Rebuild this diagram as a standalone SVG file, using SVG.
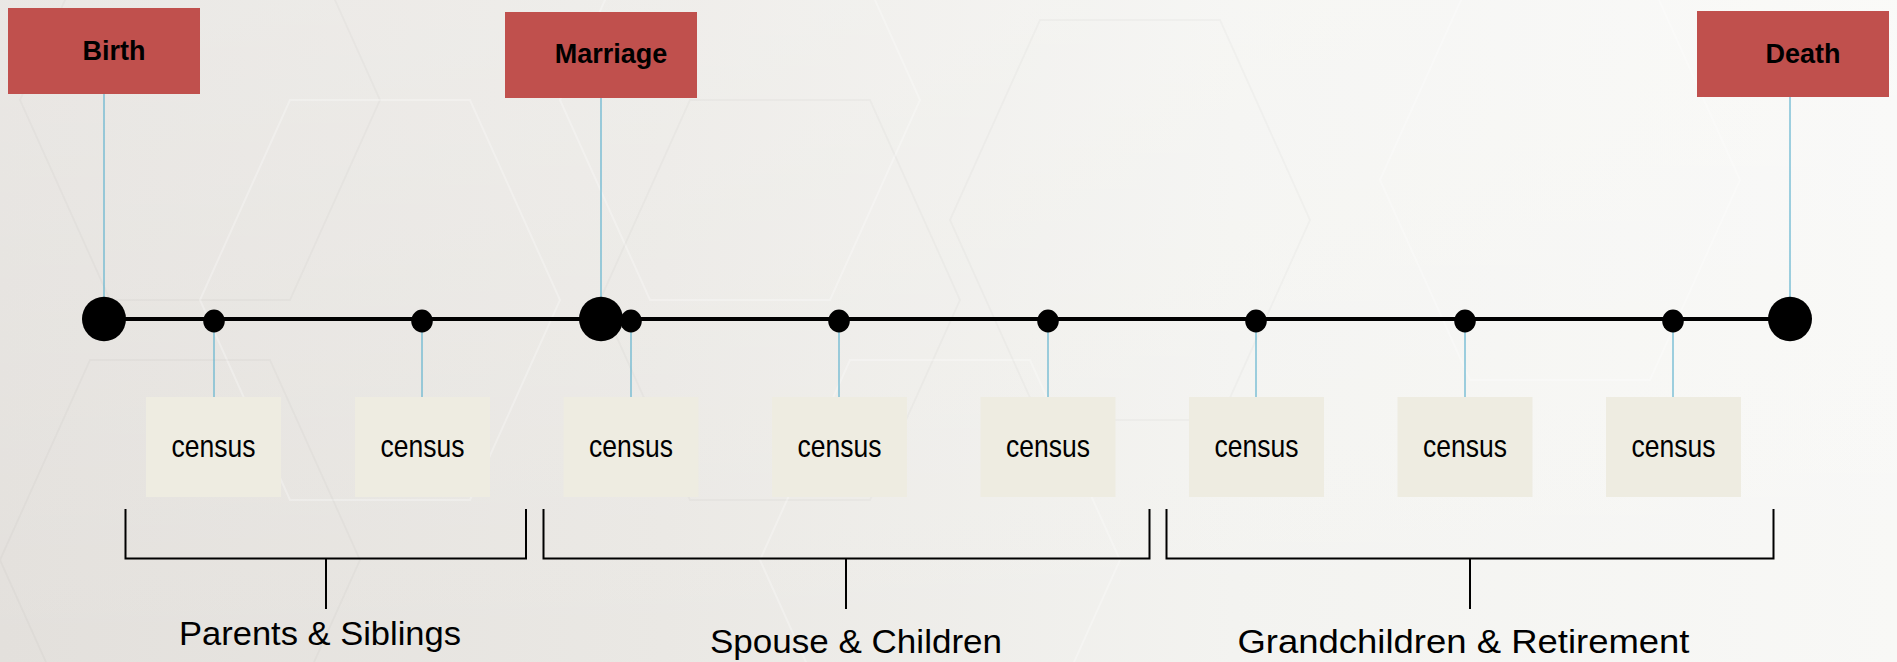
<svg xmlns="http://www.w3.org/2000/svg" width="1897" height="662" viewBox="0 0 1897 662">
  <defs>
    <linearGradient id="bg" x1="0" y1="0" x2="1" y2="0">
      <stop offset="0" stop-color="#e3e0dc"/>
      <stop offset="0.35" stop-color="#eae8e4"/>
      <stop offset="0.65" stop-color="#f3f3f0"/>
      <stop offset="1" stop-color="#f8f8f6"/>
    </linearGradient>
    <linearGradient id="bgv" x1="0" y1="0" x2="0" y2="1">
      <stop offset="0" stop-color="#ffffff" stop-opacity="0.25"/>
      <stop offset="1" stop-color="#ffffff" stop-opacity="0"/>
    </linearGradient>
    <style>
      .event rect { fill: #c0504d; }
      .event text { font-family: "Liberation Sans", Arial, sans-serif; font-weight: bold; font-size: 27px; fill: #000; text-anchor: middle; }
      .census rect { fill: #eeece1; }
      .census text { font-family: "Liberation Sans", Arial, sans-serif; font-size: 32px; fill: #000; text-anchor: middle; }
      .lead { stroke: #5fb3cf; stroke-width: 1.2; fill: none; }
      .axis { stroke: #000; stroke-width: 4; fill: none; }
      .bracket { stroke: #000; stroke-width: 2; fill: none; }
      .dot { fill: #000; }
      .span text { font-family: "Liberation Sans", Arial, sans-serif; font-size: 33px; fill: #000; text-anchor: middle; }
      .hex { fill: none; stroke: #ffffff; stroke-opacity: 0.28; stroke-width: 2; }
      .hexd { fill: none; stroke: #000000; stroke-opacity: 0.022; stroke-width: 2; }
    </style>
  </defs>

  <!-- backdrop -->
  <rect x="0" y="0" width="1897" height="662" fill="url(#bg)"/>
  <rect x="0" y="0" width="1897" height="662" fill="url(#bgv)"/>
  <g id="backdrop-pattern">
    <polygon class="hexd" points="20,100 110,-100 290,-100 380,100 290,300 110,300"/>
    <polygon class="hex" points="200,300 290,100 470,100 560,300 470,500 290,500"/>
    <polygon class="hexd" points="0,560 90,360 270,360 360,560 270,760 90,760"/>
    <polygon class="hex" points="560,100 650,-100 830,-100 920,100 830,300 650,300"/>
    <polygon class="hexd" points="600,300 690,100 870,100 960,300 870,500 690,500"/>
    <polygon class="hex" points="760,560 850,360 1030,360 1120,560 1030,760 850,760"/>
    <polygon class="hexd" points="950,220 1040,20 1220,20 1310,220 1220,420 1040,420"/>
    <polygon class="hex" points="1380,180 1470,-20 1650,-20 1740,180 1650,380 1470,380"/>
  </g>

  <!-- connectors: leader lines, axis, brackets -->
  <g id="connectors">
    <line class="lead" x1="104" y1="94" x2="104" y2="300"/>
    <line class="lead" x1="601" y1="98" x2="601" y2="300"/>
    <line class="lead" x1="1790" y1="97" x2="1790" y2="300"/>
    <line class="lead" x1="214" y1="321" x2="214" y2="397"/>
    <line class="lead" x1="422" y1="321" x2="422" y2="397"/>
    <line class="lead" x1="631" y1="321" x2="631" y2="397"/>
    <line class="lead" x1="839" y1="321" x2="839" y2="397"/>
    <line class="lead" x1="1048" y1="321" x2="1048" y2="397"/>
    <line class="lead" x1="1256" y1="321" x2="1256" y2="397"/>
    <line class="lead" x1="1465" y1="321" x2="1465" y2="397"/>
    <line class="lead" x1="1673" y1="321" x2="1673" y2="397"/>
    <line class="axis" x1="104" y1="319" x2="1790" y2="319"/>
    <path class="bracket" d="M125.5,509 V558.5 H526 V509 M326,558.5 V609"/>
    <path class="bracket" d="M543.5,509 V558.5 H1149.5 V509 M846,558.5 V609"/>
    <path class="bracket" d="M1166.5,509 V558.5 H1773.5 V509 M1470,558.5 V609"/>
  </g>

  <!-- timeline markers -->
  <g id="markers">
    <ellipse class="dot" cx="104" cy="319" rx="22" ry="22.3"/>
    <ellipse class="dot" cx="601" cy="319" rx="22" ry="22.3"/>
    <ellipse class="dot" cx="1790" cy="319" rx="22" ry="22.3"/>
    <ellipse class="dot" cx="214" cy="321" rx="10.8" ry="11.4"/>
    <ellipse class="dot" cx="422" cy="321" rx="10.8" ry="11.4"/>
    <ellipse class="dot" cx="631" cy="321" rx="10.8" ry="11.4"/>
    <ellipse class="dot" cx="839" cy="321" rx="10.8" ry="11.4"/>
    <ellipse class="dot" cx="1048" cy="321" rx="10.8" ry="11.4"/>
    <ellipse class="dot" cx="1256" cy="321" rx="10.8" ry="11.4"/>
    <ellipse class="dot" cx="1465" cy="321" rx="10.8" ry="11.4"/>
    <ellipse class="dot" cx="1673" cy="321" rx="10.8" ry="11.4"/>
  </g>

  <!-- life events -->
  <g id="birth" class="event">
    <rect x="8" y="8" width="192" height="86"/>
    <text x="114" y="60">Birth</text>
  </g>
  <g id="marriage" class="event">
    <rect x="505" y="12" width="192" height="86"/>
    <text x="611" y="63">Marriage</text>
  </g>
  <g id="death" class="event">
    <rect x="1697" y="11" width="192" height="86"/>
    <text x="1803" y="62.5">Death</text>
  </g>

  <!-- census records -->
  <g id="census-1" class="census">
    <rect x="146" y="397" width="135" height="100"/>
    <text x="213.5" y="456.5" textLength="84" lengthAdjust="spacingAndGlyphs">census</text>
  </g>
  <g id="census-2" class="census">
    <rect x="355" y="397" width="135" height="100"/>
    <text x="422.5" y="456.5" textLength="84" lengthAdjust="spacingAndGlyphs">census</text>
  </g>
  <g id="census-3" class="census">
    <rect x="563.5" y="397" width="135" height="100"/>
    <text x="631" y="456.5" textLength="84" lengthAdjust="spacingAndGlyphs">census</text>
  </g>
  <g id="census-4" class="census">
    <rect x="772" y="397" width="135" height="100"/>
    <text x="839.5" y="456.5" textLength="84" lengthAdjust="spacingAndGlyphs">census</text>
  </g>
  <g id="census-5" class="census">
    <rect x="980.5" y="397" width="135" height="100"/>
    <text x="1048" y="456.5" textLength="84" lengthAdjust="spacingAndGlyphs">census</text>
  </g>
  <g id="census-6" class="census">
    <rect x="1189" y="397" width="135" height="100"/>
    <text x="1256.5" y="456.5" textLength="84" lengthAdjust="spacingAndGlyphs">census</text>
  </g>
  <g id="census-7" class="census">
    <rect x="1397.5" y="397" width="135" height="100"/>
    <text x="1465" y="456.5" textLength="84" lengthAdjust="spacingAndGlyphs">census</text>
  </g>
  <g id="census-8" class="census">
    <rect x="1606" y="397" width="135" height="100"/>
    <text x="1673.5" y="456.5" textLength="84" lengthAdjust="spacingAndGlyphs">census</text>
  </g>

  <!-- life stages -->
  <g id="stage-parents" class="span">
    <text x="320" y="645" textLength="282" lengthAdjust="spacingAndGlyphs">Parents &amp; Siblings</text>
  </g>
  <g id="stage-spouse" class="span">
    <text x="856" y="653" textLength="292" lengthAdjust="spacingAndGlyphs">Spouse &amp; Children</text>
  </g>
  <g id="stage-grandchildren" class="span">
    <text x="1463.5" y="653" textLength="452" lengthAdjust="spacingAndGlyphs">Grandchildren &amp; Retirement</text>
  </g>
</svg>
